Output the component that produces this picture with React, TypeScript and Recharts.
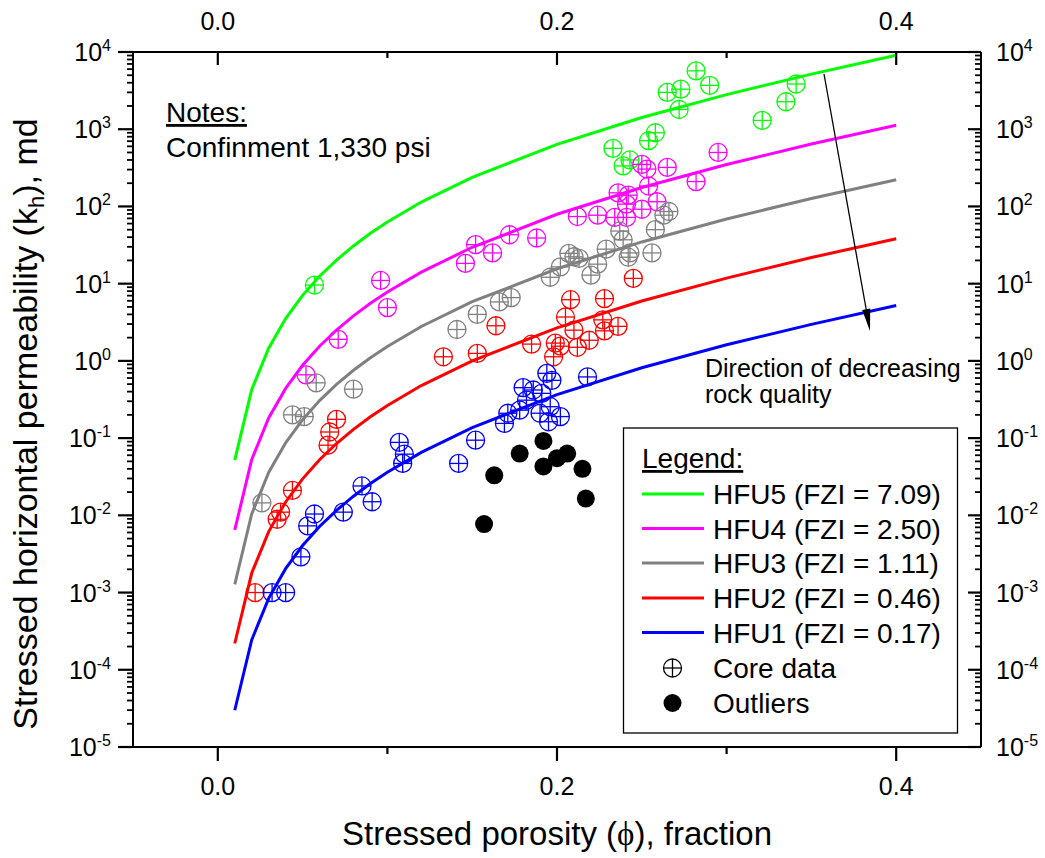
import React from 'react';
import { ComposedChart, Line, Scatter, XAxis, YAxis } from 'recharts';

const FONT = '"Liberation Sans", Arial, Helvetica, sans-serif';
const W = 1045;
const H = 858;
// plot box in page pixels
const PLOT = { left: 133, right: 981, top: 52, bottom: 747 };
const X_DOMAIN = [-0.05, 0.45];
const Y_DOMAIN = [1e-5, 1e4];

// porosity grid of the model curves
const curvePhi = [0.01, 0.02, 0.03, 0.04, 0.05, 0.06, 0.07, 0.08, 0.09, 0.1, 0.12, 0.15, 0.2, 0.25, 0.3, 0.35, 0.4];
const hfu5K = [0.052, 0.425, 1.46, 3.54, 7.06, 12.5, 20.2, 30.8, 44.9, 62.9, 114, 238, 637, 1416, 2809, 5173, 9062];
const hfu4K = [0.00647, 0.0528, 0.182, 0.44, 0.878, 1.55, 2.51, 3.83, 5.58, 7.82, 14.1, 29.6, 79.2, 176, 349, 643, 1127];
const hfu3K = [0.00128, 0.0104, 0.0359, 0.0868, 0.173, 0.306, 0.496, 0.756, 1.1, 1.54, 2.79, 5.84, 15.6, 34.7, 68.8, 127, 222];
const hfu2K = [0.000219, 0.00179, 0.00616, 0.0149, 0.0297, 0.0525, 0.0851, 0.13, 0.189, 0.265, 0.479, 1.0, 2.68, 5.96, 11.8, 21.8, 38.1];
const hfu1K = [0.0000299, 0.000244, 0.000841, 0.00204, 0.00406, 0.00717, 0.0116, 0.0177, 0.0258, 0.0362, 0.0654, 0.137, 0.366, 0.814, 1.62, 2.97, 5.21];

// core data [phi, k]
const hfu5Core = [
  [0.057, 9.6], [0.233, 565], [0.239, 335], [0.243, 400], [0.254, 710], [0.258, 900], [0.265, 3000],
  [0.272, 1800], [0.273, 3300], [0.282, 5700], [0.29, 3700], [0.321, 1300], [0.335, 2270], [0.341, 3850],
];
const hfu4Core = [
  [0.052, 0.66], [0.071, 1.9], [0.096, 11], [0.1, 4.9], [0.146, 18.3], [0.152, 32], [0.162, 25], [0.172, 43],
  [0.188, 39], [0.212, 74], [0.224, 77], [0.234, 72], [0.241, 72], [0.25, 92], [0.241, 107], [0.259, 115],
  [0.242, 140], [0.236, 150], [0.254, 184], [0.282, 210], [0.253, 305], [0.265, 320], [0.25, 350], [0.295, 500],
];
const hfu3Core = [
  [0.026, 0.0145], [0.044, 0.2], [0.051, 0.19], [0.058, 0.52], [0.08, 0.43], [0.141, 2.55], [0.153, 4.0],
  [0.166, 5.8], [0.173, 6.6], [0.196, 12.1], [0.202, 16.5], [0.207, 24.7], [0.21, 22.3], [0.213, 21.3],
  [0.22, 12.9], [0.224, 17.9], [0.229, 28], [0.237, 48], [0.239, 37], [0.243, 25], [0.242, 22], [0.256, 25],
  [0.258, 50], [0.263, 77], [0.266, 86],
];
const hfu2Core = [
  [0.022, 0.001], [0.035, 0.0089], [0.037, 0.011], [0.044, 0.021], [0.065, 0.081], [0.066, 0.12], [0.07, 0.175],
  [0.133, 1.13], [0.153, 1.25], [0.164, 2.85], [0.185, 1.65], [0.198, 1.13], [0.199, 1.7], [0.202, 1.55],
  [0.205, 3.7], [0.208, 6.2], [0.21, 2.5], [0.212, 1.5], [0.219, 1.85], [0.227, 3.4], [0.228, 2.45],
  [0.228, 6.4], [0.236, 2.8], [0.245, 11.7],
];
const hfu1Core = [
  [0.032, 0.001], [0.04, 0.001], [0.049, 0.0029], [0.053, 0.0073], [0.057, 0.0104], [0.074, 0.011],
  [0.085, 0.024], [0.091, 0.015], [0.107, 0.088], [0.11, 0.062], [0.109, 0.047], [0.142, 0.047],
  [0.152, 0.094], [0.169, 0.155], [0.171, 0.21], [0.178, 0.23], [0.18, 0.45], [0.182, 0.31], [0.186, 0.42],
  [0.19, 0.21], [0.191, 0.38], [0.194, 0.69], [0.195, 0.163], [0.196, 0.255], [0.197, 0.56], [0.202, 0.19],
  [0.218, 0.62],
];
const outliers = [
  [0.157, 0.0077], [0.163, 0.033], [0.178, 0.063], [0.192, 0.092], [0.192, 0.043], [0.2, 0.055],
  [0.206, 0.063], [0.215, 0.04], [0.217, 0.0165],
];

const xTicks = [0, 0.1, 0.2, 0.3, 0.4];
const yTicks: number[] = [];
for (let e = -5; e <= 4; e++) {
  for (let m = 1; m <= 9; m++) {
    if (e === 4 && m > 1) break;
    yTicks.push(Number((m * Math.pow(10, e)).toPrecision(3)));
  }
}

const series = [
  { name: 'HFU5 (FZI = 7.09)', color: '#00ff00', curve: hfu5K, core: hfu5Core },
  { name: 'HFU4 (FZI = 2.50)', color: '#ff00ff', curve: hfu4K, core: hfu4Core },
  { name: 'HFU3 (FZI = 1.11)', color: '#808080', curve: hfu3K, core: hfu3Core },
  { name: 'HFU2 (FZI = 0.46)', color: '#ff0000', curve: hfu2K, core: hfu2Core },
  { name: 'HFU1 (FZI = 0.17)', color: '#0000ff', curve: hfu1K, core: hfu1Core },
];

const curvePoints = (ks: number[]) => curvePhi.map((phi, i) => ({ phi, k: ks[i] }));
const pairPoints = (arr: number[][]) => arr.map(([phi, k]) => ({ phi, k }));

const isMajorY = (v: number) => {
  const l = Math.log10(v);
  return Math.abs(l - Math.round(l)) < 1e-6;
};
const isMajorX = (v: number) => Math.round(v * 10) % 2 === 0;

// pixel helpers for the tick stubs (same mapping as the chart's axes)
const xPix = (v: number) =>
  PLOT.left + ((v - X_DOMAIN[0]) / (X_DOMAIN[1] - X_DOMAIN[0])) * (PLOT.right - PLOT.left);
const yPix = (v: number) =>
  PLOT.bottom -
  ((Math.log10(v) - Math.log10(Y_DOMAIN[0])) / (Math.log10(Y_DOMAIN[1]) - Math.log10(Y_DOMAIN[0]))) *
    (PLOT.bottom - PLOT.top);

function Pow10({ x, y, e, anchor }: { x: number; y: number; e: number; anchor: 'start' | 'end' }) {
  return (
    <text x={x} y={y + 9} textAnchor={anchor} fontSize={25} fontFamily={FONT} fill="#000">
      10<tspan fontSize={16} dy={-10}>{e}</tspan>
    </text>
  );
}

function LeftTick(props: any) {
  const { y, payload } = props;
  const v = payload.value;
  if (!isMajorY(v)) return <g />;
  return <Pow10 x={111} y={y} e={Math.round(Math.log10(v))} anchor="end" />;
}

function RightTick(props: any) {
  const { y, payload } = props;
  const v = payload.value;
  if (!isMajorY(v)) return <g />;
  return <Pow10 x={996} y={y} e={Math.round(Math.log10(v))} anchor="start" />;
}

function BottomTick(props: any) {
  const { x, payload } = props;
  if (!isMajorX(payload.value)) return <g />;
  return (
    <text x={x} y={795} textAnchor="middle" fontSize={25} fontFamily={FONT} fill="#000">
      {payload.value.toFixed(1)}
    </text>
  );
}

function TopTick(props: any) {
  const { x, payload } = props;
  if (!isMajorX(payload.value)) return <g />;
  return (
    <text x={x} y={30} textAnchor="middle" fontSize={25} fontFamily={FONT} fill="#000">
      {payload.value.toFixed(1)}
    </text>
  );
}

const coreShape = (color: string) => (props: any) => {
  const { cx, cy } = props;
  if (cx == null || cy == null) return <g />;
  const r = 9;
  return (
    <g>
      <circle cx={cx} cy={cy} r={r} fill="none" stroke={color} strokeWidth={1.3} />
      <line x1={cx - r} x2={cx + r} y1={cy} y2={cy} stroke={color} strokeWidth={1.3} />
      <line x1={cx} x2={cx} y1={cy - r} y2={cy + r} stroke={color} strokeWidth={1.3} />
    </g>
  );
};

const outlierShape = (props: any) => {
  const { cx, cy } = props;
  if (cx == null || cy == null) return <g />;
  return <circle cx={cx} cy={cy} r={9} fill="#000" />;
};

function TickStubs() {
  return (
    <g>
      {yTicks.map((v) => {
        const major = isMajorY(v);
        const y = yPix(v);
        const sw = major ? 2.2 : 1.8;
        return (
          <g key={'y' + v}>
            <line x1={PLOT.left} x2={PLOT.left - (major ? 15 : 6)} y1={y} y2={y} stroke="#000" strokeWidth={sw} />
            <line x1={PLOT.right} x2={PLOT.right - (major ? 13 : 6)} y1={y} y2={y} stroke="#000" strokeWidth={sw} />
          </g>
        );
      })}
      {xTicks.map((v) => {
        const major = isMajorX(v);
        const x = xPix(v);
        return (
          <g key={'x' + v}>
            <line x1={x} x2={x} y1={PLOT.bottom} y2={PLOT.bottom + (major ? 14 : 7)} stroke="#000" strokeWidth={2.2} />
            <line x1={x} x2={x} y1={PLOT.top} y2={PLOT.top + (major ? 13 : 6)} stroke="#000" strokeWidth={2.2} />
          </g>
        );
      })}
    </g>
  );
}

function Overlay() {
  const legendRowY = [494, 528.5, 563, 598, 632.5];
  return (
    <svg width={W} height={H} style={{ position: 'absolute', left: 0, top: 0, pointerEvents: 'none' }} fontFamily={FONT}>
      {/* axis titles */}
      <text transform="translate(37,424) rotate(-90)" textAnchor="middle" fontSize={34} fill="#000">
        Stressed horizontal permeability (k<tspan fontSize={22} dy={7}>h</tspan>
        <tspan dy={-7}>), md</tspan>
      </text>
      <text x={557} y={845} textAnchor="middle" fontSize={33} fill="#000">
        Stressed porosity (<tspan fontFamily='"Liberation Serif", "DejaVu Serif", serif'>ϕ</tspan>), fraction
      </text>

      {/* notes */}
      <text x={166} y={122} fontSize={28} fill="#000" textDecoration="underline">Notes:</text>
      <text x={166} y={157} fontSize={28} fill="#000">Confinment 1,330 psi</text>

      {/* direction arrow */}
      <line x1={824} y1={74} x2={866.5} y2={311} stroke="#000" strokeWidth={1.3} />
      <polygon points="870,331 870.2,308.5 862.2,310" fill="#000" />
      <text x={705} y={377} fontSize={25} fill="#000">Direction of decreasing</text>
      <text x={705} y={403} fontSize={25} fill="#000">rock quality</text>

      {/* legend */}
      <rect x={623.5} y={428} width={334} height={305} fill="#fff" stroke="#000" strokeWidth={1.3} />
      <text x={642} y={468} fontSize={28} fill="#000" textDecoration="underline">Legend:</text>
      {series.map((s, i) => (
        <g key={s.name}>
          <line x1={642} x2={704} y1={legendRowY[i]} y2={legendRowY[i]} stroke={s.color} strokeWidth={3} />
          <text x={713} y={legendRowY[i] + 10} fontSize={28} fill="#000">{s.name}</text>
        </g>
      ))}
      {coreShape('#000')({ cx: 672.5, cy: 668 })}
      <text x={713} y={678} fontSize={28} fill="#000">Core data</text>
      <circle cx={672.5} cy={703} r={9} fill="#000" />
      <text x={713} y={713} fontSize={28} fill="#000">Outliers</text>

      <TickStubs />
    </svg>
  );
}

export default function App() {
  const axisLine = { stroke: '#000', strokeWidth: 2 };
  return (
    <div style={{ position: 'absolute', left: 0, top: 0, width: W, height: H, background: '#fff' }}>
      <ComposedChart width={W} height={H} margin={{ top: 8, right: 8, bottom: 8, left: 8 }}>
        <XAxis
          xAxisId="bottom"
          dataKey="phi"
          type="number"
          domain={X_DOMAIN}
          ticks={xTicks}
          allowDataOverflow
          height={H - PLOT.bottom - 8}
          axisLine={axisLine}
          tickLine={false}
          tick={(p: any) => <BottomTick {...p} />}
          interval={0}
        />
        <XAxis
          xAxisId="top"
          orientation="top"
          dataKey="phi"
          type="number"
          domain={X_DOMAIN}
          ticks={xTicks}
          allowDataOverflow
          height={PLOT.top - 8}
          axisLine={axisLine}
          tickLine={false}
          tick={(p: any) => <TopTick {...p} />}
          interval={0}
        />
        <YAxis
          yAxisId="left"
          dataKey="k"
          type="number"
          scale="log"
          domain={Y_DOMAIN}
          ticks={yTicks}
          allowDataOverflow
          width={PLOT.left - 8}
          axisLine={axisLine}
          tickLine={false}
          tick={(p: any) => <LeftTick {...p} />}
          interval={0}
        />
        <YAxis
          yAxisId="right"
          orientation="right"
          dataKey="k"
          type="number"
          scale="log"
          domain={Y_DOMAIN}
          ticks={yTicks}
          allowDataOverflow
          width={W - PLOT.right - 8}
          axisLine={axisLine}
          tickLine={false}
          tick={(p: any) => <RightTick {...p} />}
          interval={0}
        />
        {series.map((s) => (
          <Line
            key={s.name}
            xAxisId="bottom"
            yAxisId="left"
            data={curvePoints(s.curve)}
            dataKey="k"
            stroke={s.color}
            strokeWidth={3}
            dot={false}
            activeDot={false}
            type="linear"
            isAnimationActive={false}
          />
        ))}
        {series.map((s) => (
          <Scatter
            key={s.name + '-core'}
            xAxisId="bottom"
            yAxisId="left"
            data={pairPoints(s.core)}
            dataKey="k"
            shape={coreShape(s.color)}
            isAnimationActive={false}
          />
        ))}
        <Scatter
          xAxisId="bottom"
          yAxisId="left"
          data={pairPoints(outliers)}
          dataKey="k"
          shape={outlierShape}
          isAnimationActive={false}
        />
      </ComposedChart>
      <Overlay />
    </div>
  );
}
